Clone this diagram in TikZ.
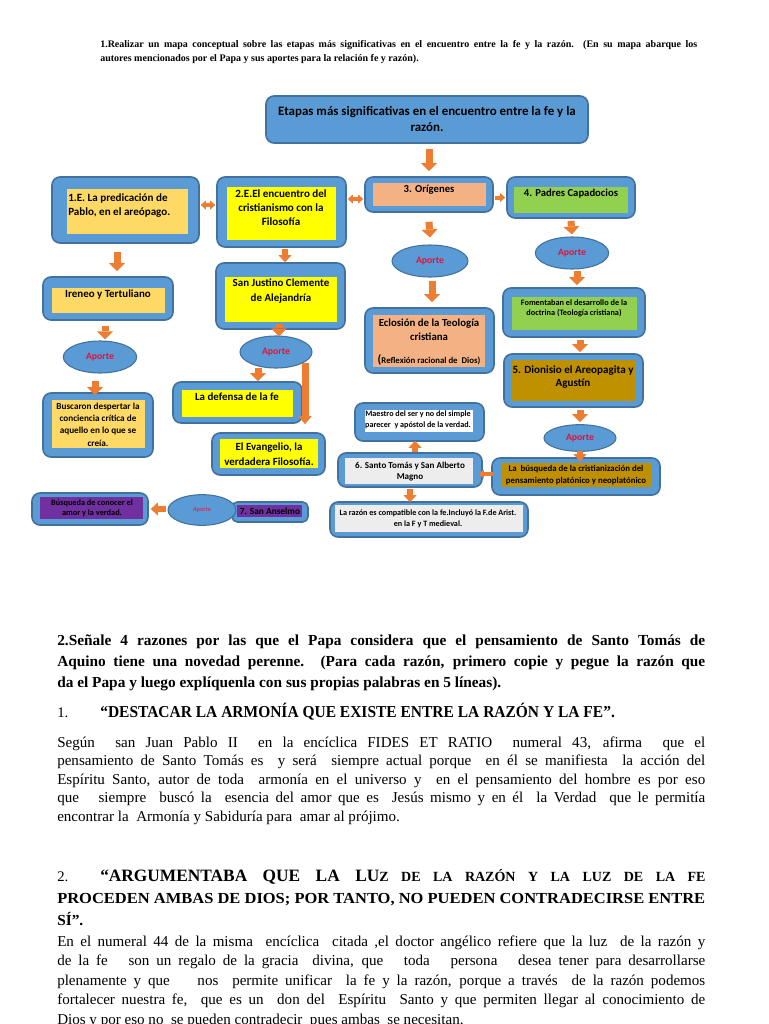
\documentclass[tikz,border=0pt]{standalone}
\usepackage{graphicx}
\usepackage{fontspec}
\setmainfont{Liberation Serif}
\newfontfamily\carl{Carlito}
\usetikzlibrary{arrows.meta,fit,shapes.geometric,calc}
\definecolor{blueb}{RGB}{91,155,213}
\definecolor{bordb}{RGB}{65,113,156}
\definecolor{orA}{RGB}{237,125,49}
\definecolor{lor}{RGB}{255,217,102}
\definecolor{yel}{RGB}{255,255,0}
\definecolor{sal}{RGB}{244,177,131}
\definecolor{grn}{RGB}{146,208,80}
\definecolor{gold}{RGB}{191,144,0}
\definecolor{lgr}{RGB}{237,237,237}
\definecolor{pur}{RGB}{112,48,160}
\definecolor{apred}{RGB}{220,20,60}
\newcommand\cf[2]{\carl\bfseries\fontsize{#1}{#2}\selectfont}
\begin{document}
\begin{tikzpicture}[x=0.75pt,y=-0.75pt,
  ob/.style={draw=bordb, fill=blueb, line width=1.2pt, rounded corners=6pt, inner sep=0pt},
  ib/.style={inner sep=0pt, draw=none},
  ap/.style={ellipse, draw=bordb, fill=blueb, line width=0.8pt, inner sep=0pt, text=apred, font=\cf{7.3}{8}},
  tx/.style={inner sep=0pt, text=black, align=center},
  lt/.style={anchor=base west, inner sep=0pt, text=black},
  tipL/.tip={Triangle[width=12pt,length=6pt,line width=0pt]},
  tipM/.tip={Triangle[width=9.75pt,length=5.25pt,line width=0pt]},
  tipS/.tip={Triangle[width=6.75pt,length=3.75pt,line width=0pt]},
  tipX/.tip={Triangle[width=10pt,length=6pt,line width=0pt]},
  ba/.style={orA, line width=5.25pt, arrows={-tipL}},
  bm/.style={orA, line width=4.5pt, arrows={-tipM}},
  bs/.style={orA, line width=3pt, arrows={-tipS}},
  bd/.style={orA, line width=3pt, arrows={tipS-tipS}},
  bx/.style={orA, line width=5.25pt, arrows={-tipX}},
  ]
\useasboundingbox[fill=white] (0,0) rectangle (768,1024);

% ---------- heading 1
\node[lt, font=\bfseries\fontsize{7.5}{9}\selectfont] (q1a) at (100,48) {\makebox[447.75pt][s]{1.Realizar un mapa conceptual sobre las etapas más significativas en el encuentro entre la fe y la razón. (En su mapa abarque los}};
\node[lt, font=\bfseries\fontsize{7.5}{9}\selectfont] (q1b) at (100,62) {autores mencionados por el Papa y sus aportes para la relación fe y razón).};

% ---------- title
\node[ob, fit={(266,96)(588,143)}] (title) {};
\node[tx, font=\cf{9.7}{12}] (titletx) at (427,119) {Etapas más significativas en el encuentro entre la fe y la\\razón.};

% ---------- row 1
\node[ob, fit={(52,177)(199,243)}] (b1) {};
\node[ib, fill=lor, fit={(67,189)(188,234)}] (b1i) {};
\node[tx, align=left, anchor=north west, font=\cf{8.3}{10.5}] (b1t) at (68,193) {1.E. La predicación de\\Pablo, en el areópago.};

\node[ob, fit={(217,177)(346,247)}] (b2) {};
\node[ib, fill=yel, fit={(227,187)(336,240)}] (b2i) {};
\node[tx, font=\cf{8.3}{10.5}] (b2t) at (281,208) {2.E.El encuentro del\\cristianismo con la\\Filosofía};

\node[ob, fit={(365,177)(493,212)}] (b3) {};
\node[ib, fill=sal, fit={(373,183)(486,206)}] (b3i) {};
\node[tx, font=\cf{8}{9}] (b3t) at (429,190) {3. Orígenes};

\node[ob, fit={(507,177)(635,218)}] (b4) {};
\node[ib, fill=grn, fit={(514,187)(628,213)}] (b4i) {};
\node[tx, font=\cf{8}{9}] (b4t) at (571,194) {4. Padres Capadocios};

% ---------- Ireneo column
\node[ob, fit={(43,277)(173,320)}] (c1) {};
\node[ib, fill=lor, fit={(52,288)(165,313)}] (c1i) {};
\node[tx, font=\cf{8.2}{9}] (c1t) at (108,295) {Ireneo y Tertuliano};
\node[ap, minimum width=55pt, minimum height=24pt] (ap1) at (100,357) {Aporte};
\node[ob, fit={(43,393)(153,457)}] (c2) {};
\node[ib, fill=lor, fit={(52,400)(145,448)}] (c2i) {};
\node[tx, font=\cf{6.9}{9.2}] (c2t) at (98,424.5) {Buscaron despertar la\\conciencia crítica de\\aquello en lo que se\\creía.};

% ---------- San Justino column
\node[ob, fit={(216,263)(345,329)}] (d1) {};
\node[ib, fill=yel, fit={(225,277)(337,322)}] (d1i) {};
\node[tx, font=\cf{8.2}{11.25}] (d1t) at (281,291.5) {San Justino Clemente\\de Alejandría};
\node[ap, minimum width=54pt, minimum height=24pt] (ap2) at (276,352) {Aporte};
\node[ob, fit={(173,382)(302,423)}] (d2) {};
\node[ib, fill=yel, fit={(182,390)(293,417)}] (d2i) {};
\node[tx, font=\cf{8.2}{9}] (d2t) at (237,397) {La defensa de la fe};
\node[ob, fit={(212,433)(325,475)}] (d3) {};
\node[ib, fill=yel, fit={(220,439)(318,468)}] (d3i) {};
\node[tx, font=\cf{8.2}{11.25}] (d3t) at (269,454.5) {El Evangelio, la\\verdadera Filosofía.};

% ---------- Origenes column
\node[ap, minimum width=57pt, minimum height=24pt] (ap3) at (430,261) {Aporte};
\node[ob, fit={(365,308)(494,373)}] (e1) {};
\node[ib, fill=sal, fit={(373,315)(485,367)}] (e1i) {};
\node[tx, font=\cf{8.1}{10.5}] (e1t) at (429,330) {Eclosión de la Teología\\cristiana};
\node[tx, font=\cf{6.6}{7}] (e1s) at (429,360) {{\fontsize{9}{9}\selectfont(}Reflexión racional de\ \ Dios)};

% ---------- Padres column
\node[ap, minimum width=55pt, minimum height=24pt] (ap4) at (572,253) {Aporte};
\node[ob, fit={(503,288)(645,337)}] (f1) {};
\node[ib, fill=grn, fit={(512,297)(637,330)}] (f1i) {};
\node[tx, font=\cf{6.2}{7.5}] (f1t) at (574,308) {Fomentaban el desarrollo de la\\doctrina (Teología cristiana)};
\node[ob, fit={(504,354)(643,407)}] (f2) {};
\node[ib, fill=gold, fit={(512,360)(635,401)}] (f2i) {};
\node[tx, font=\cf{8.3}{9.75}] (f2t) at (573,377.5) {5. Dionisio el Areopagita y\\Agustín};
\node[ap, minimum width=54pt, minimum height=20pt] (ap5) at (580,438) {Aporte};
\node[ob, fit={(492,458)(660,495)}] (f3) {};
\node[ib, fill=gold, fit={(501,463)(652,487)}] (f3i) {};
\node[tx, font=\cf{6.6}{9}] (f3t) at (576,475) {La\ \ búsqueda de la cristianización del\\pensamiento platónico y neoplatónico};

% ---------- Santo Tomas
\node[ob, fit={(338,453)(482,487)}] (g1) {};
\node[ib, fill=lgr, fit={(345,458)(473,484)}] (g1i) {};
\node[tx, font=\cf{6.8}{8.25}] (g1t) at (410,471.5) {6. Santo Tomás y San Alberto\\Magno};
\node[ob, fit={(355,403)(484,441)}] (g2) {};
\node[ib, fill=white, fit={(365,410)(473,432)}] (g2i) {};
\node[tx, font=\cf{6.1}{8.25}] (g2t) at (418,419.5) {Maestro del ser y no del simple\\parecer\ \ y apóstol de la verdad.};
\node[ob, fit={(330,502)(528,537)}] (g3) {};
\node[ib, fill=lgr, fit={(335,505)(523,532)}] (g3i) {};
\node[tx, font=\cf{6.1}{8.25}] (g3t) at (428,518.5) {La razón es compatible con la fe.Incluyó la F.de Arist.\\en la F y T medieval.};

% ---------- Anselmo
\node[ob, rounded corners=4pt, fit={(232,502)(308,522)}] (h1) {};
\node[ib, fill=pur, fit={(237,505)(302,517)}] (h1i) {};
\node[tx, font=\cf{7}{8}] (h1t) at (270,511) {7. San Anselmo};
\node[ap, minimum width=51pt, minimum height=23pt, font=\carl\fontsize{4.8}{5}\selectfont] (ap6) at (202,510) {Aporte};
\node[ob, fit={(32,493)(148,525)}] (h2) {};
\node[ib, fill=pur, fit={(40,497)(143,519)}] (h2i) {};
\node[tx, font=\cf{6.2}{7.5}] (h2t) at (92,508) {Búsqueda de conocer el\\amor y la verdad.};

% ---------- arrows
\draw[ba] ($(title.south -| b3.north)+(0,5)$) -- ($(b3.north)+(0,-5)$);
\draw[bd] ($(b1.east)+(1,-5)$) -- ($(b2.west |- b1.east)+(-1,-5)$);
\draw[bd] ($(b2.east |- b3.west)+(1,4.5)$) -- ($(b3.west)+(-1,4.5)$);
\draw[bs] ($(b3.east)+(1,3)$) -- ($(b4.west |- b3.east)+(-1,3)$);
\draw[ba] ($(b3.south)+(0,9)$) -- ($(ap3.north)+(0,-7)$);
\draw[ba] ($(ap3.south)+(2,3)$) -- ($(ap3.south |- e1.north)+(2,-5)$);
\draw[ba] ($(b4.south)+(0,2)$) -- ($(ap4.north)+(0,-2)$);
\draw[ba] ($(ap4.south)+(5,1)$) -- ($(ap4.south |- f1.north)+(5,-2)$);
\draw[ba] ($(f1.south)+(6,2)$) -- ($(f1.south |- f2.north)+(6,-1)$);
\draw[ba] ($(f2.south)+(6.5,2)$) -- ($(ap5.north)+(0,-2)$);
\draw[bm] ($(ap5.south)+(0,-1)$) -- ($(ap5.south |- f3.north)+(0,4)$);
\draw[bs] ($(f3.west)+(2,-2.5)$) -- ($(g1.east |- f3.west)+(-4,-2.5)$);
\draw[bm] ($(g1.north)+(5,0)$) -- ($(g1.north |- g2.south)+(5,-1)$);
\draw[bm] ($(g1.south)+(0,1)$) -- ($(g1.south |- g3.north)+(0,1)$);
\draw[bm] ($(ap6.west)+(-1,-1)$) -- ($(h2.east |- ap6.west)+(2,-1)$);
\draw[ba] ($(b1.south)+(-8.5,8)$) -- ($(b1.south |- c1.north)+(-8.5,-5)$);
\draw[ba] ($(c1.south)+(-3,5)$) -- ($(c1.south |- ap1.north)+(-3,-1)$);
\draw[ba] ($(ap1.south)+(-5,7)$) -- ($(ap1.south |- c2.north)+(-5,3)$);
\draw[bm] ($(b2.south)+(3.5,1)$) -- ($(b2.south |- d1.north)+(3.5,0)$);
\draw[ba] ($(d1.south)+(-1.5,-6)$) -- ($(d1.south |- ap2.north)+(-1.5,1)$);
\draw[ba] ($(ap2.south)+(-18,-1)$) -- ($(ap2.south |- d2.north)+(-18,0)$);
\draw[bx] ($(ap2.south)+(29,-6)$) -- ($(ap2.south |- d3.north)+(29,-8)$);

% ---------- section 2
\node[lt, font=\bfseries\fontsize{11.5}{14}\selectfont] (s2a) at (57,645) {\makebox[486pt][s]{2.Señale 4 razones por las que el Papa considera que el pensamiento de Santo Tomás de}};
\node[lt, font=\bfseries\fontsize{11.5}{14}\selectfont] (s2b) at (57,666) {\makebox[486pt][s]{Aquino tiene una novedad perenne. (Para cada razón, primero copie y pegue la razón que}};
\node[lt, font=\bfseries\fontsize{11.5}{14}\selectfont] (s2c) at (57,687) {da el Papa y luego explíquenla con sus propias palabras en 5 líneas).};

\node[lt, font=\fontsize{11}{13}\selectfont] (n1) at (57,717) {1.};
\node[lt, font=\bfseries\fontsize{12.5}{14}\selectfont] (n1t) at (100,717) {\resizebox{386pt}{\height}{“DESTACAR LA ARMONÍA QUE EXISTE ENTRE LA RAZÓN Y LA FE”.}};

\node[lt, font=\fontsize{11.3}{14}\selectfont] (p1a) at (57,747) {\makebox[486pt][s]{Según\ \ san Juan Pablo II\ \ en la encíclica FIDES ET RATIO\ \ numeral 43, afirma\ \ que el}};
\node[lt, font=\fontsize{11.3}{14}\selectfont] (p1b) at (57,765.5) {\makebox[486pt][s]{pensamiento de Santo Tomás es\ \ y será\ \ siempre actual porque\ \ en él se manifiesta\ \ la acción del}};
\node[lt, font=\fontsize{11.3}{14}\selectfont] (p1c) at (57,784) {\makebox[486pt][s]{Espíritu Santo, autor de toda\ \ armonía en el universo y\ \ en el pensamiento del hombre es por eso}};
\node[lt, font=\fontsize{11.3}{14}\selectfont] (p1d) at (57,802.5) {\makebox[486pt][s]{que\ \ \ siempre\ \ buscó la\ \ esencia del amor que es\ \ Jesús mismo y en él\ \ la Verdad\ \ que le permitía}};
\node[lt, font=\fontsize{11.3}{14}\selectfont] (p1e) at (57,821) {encontrar la\ \ Armonía y Sabiduría para\ \ amar al prójimo.};

\node[lt, font=\fontsize{11}{13}\selectfont] (n2) at (57,881) {2.};
\node[lt, font=\bfseries] (n2a) at (100,881) {\makebox[454pt][s]{\fontsize{13}{15}\selectfont “ARGUMENTABA QUE LA LU\fontsize{10.5}{13}\selectfont Z DE LA RAZÓN Y LA LUZ DE LA FE}};
\node[lt, font=\bfseries\fontsize{11.5}{14}\selectfont] (n2b) at (57,903) {\resizebox{486pt}{\height}{PROCEDEN AMBAS DE DIOS; POR TANTO, NO PUEDEN CONTRADECIRSE ENTRE}};
\node[lt, font=\bfseries\fontsize{11.5}{14}\selectfont] (n2c) at (57,925) {SÍ”.};

\node[lt, font=\fontsize{11.3}{14}\selectfont] (p2a) at (57,946) {\makebox[486pt][s]{En el numeral 44 de la misma\ \ encíclica\ \ citada ,el doctor angélico refiere que la luz\ \ de la razón y}};
\node[lt, font=\fontsize{11.3}{14}\selectfont] (p2b) at (57,965.5) {\makebox[486pt][s]{de la fe\ \ \ son un regalo de la gracia\ \ divina, que\ \ \ toda\ \ \ persona\ \ \ desea tener para desarrollarse}};
\node[lt, font=\fontsize{11.3}{14}\selectfont] (p2c) at (57,985) {\makebox[486pt][s]{plenamente y que\ \ \ \ nos\ \ permite unificar\ \ la fe y la razón, porque a través\ \ de la razón podemos}};
\node[lt, font=\fontsize{11.3}{14}\selectfont] (p2d) at (57,1004.5) {\makebox[486pt][s]{fortalecer nuestra fe,\ \ que es un\ \ don del\ \ Espíritu\ \ Santo y que permiten llegar al conocimiento de}};
\node[lt, font=\fontsize{11.3}{14}\selectfont] (p2e) at (57,1024) {Dios y por eso no\ \ se pueden contradecir\ \ pues ambas\ \ se necesitan.};
\end{tikzpicture}
\end{document}
